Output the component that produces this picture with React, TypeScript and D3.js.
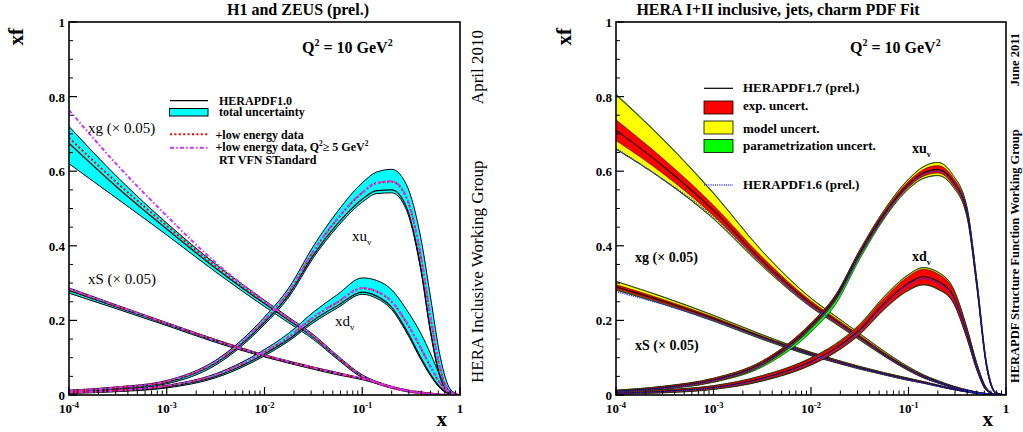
import React from 'react';
import * as d3 from 'd3';

// x grid shared by every parton density curve
const X_GRID = [0.0001, 0.000316, 0.001, 0.00316, 0.01, 0.0178, 0.0316, 0.0562, 0.1, 0.141, 0.2, 0.282, 0.398, 0.501, 0.631, 0.794, 1];

// ---- H1 and ZEUS: HERAPDF1.0 with total uncertainty, plus variants ----
const H10_XG = [0.675, 0.555, 0.445, 0.34, 0.245, 0.2, 0.155, 0.1, 0.05, 0.033, 0.02, 0.011, 0.005, 0.003, 0.001, 0, 0];
const H10_XG_UP = [0.045, 0.028, 0.016, 0.011, 0.009, 0.008, 0.007, 0.005, 0.004, 0.003, 0.002, 0.002, 0.001, 0.001, 0, 0, 0];
const H10_XG_DN = [0.055, 0.03, 0.016, 0.01, 0.008, 0.007, 0.006, 0.005, 0.004, 0.003, 0.002, 0.002, 0.001, 0.001, 0, 0, 0];
const LOWE_XG = [0.69, 0.567, 0.454, 0.346, 0.249, 0.203, 0.157, 0.101, 0.05, 0.033, 0.02, 0.011, 0.005, 0.003, 0.001, 0, 0];
const LOWQ_XG = [0.764, 0.615, 0.48, 0.355, 0.252, 0.205, 0.158, 0.102, 0.051, 0.033, 0.02, 0.011, 0.005, 0.003, 0.001, 0, 0];

const H10_XS = [0.28, 0.235, 0.19, 0.145, 0.105, 0.088, 0.072, 0.057, 0.043, 0.033, 0.021, 0.013, 0.007, 0.004, 0.001, 0, 0];
const H10_XS_ERR = [0.007, 0.005, 0.004, 0.004, 0.003, 0.003, 0.003, 0.003, 0.002, 0.002, 0.002, 0.001, 0.001, 0.001, 0, 0, 0];
const LOWE_XS = [0.283, 0.237, 0.192, 0.147, 0.106, 0.089, 0.073, 0.058, 0.044, 0.034, 0.022, 0.013, 0.007, 0.004, 0.001, 0, 0];
const LOWQ_XS = [0.285, 0.238, 0.192, 0.146, 0.106, 0.089, 0.073, 0.058, 0.044, 0.034, 0.022, 0.013, 0.007, 0.004, 0.001, 0, 0];

const H10_XUV = [0.01, 0.018, 0.034, 0.085, 0.195, 0.27, 0.375, 0.46, 0.525, 0.548, 0.55, 0.505, 0.34, 0.17, 0.045, 0.004, 0];
const H10_XUV_UP = [0.003, 0.004, 0.005, 0.008, 0.014, 0.018, 0.024, 0.033, 0.044, 0.05, 0.055, 0.06, 0.08, 0.09, 0.055, 0.012, 0];
const H10_XUV_DN = [0.002, 0.003, 0.004, 0.005, 0.006, 0.007, 0.007, 0.008, 0.008, 0.008, 0.008, 0.008, 0.007, 0.005, 0.003, 0.001, 0];
const LOWE_XUV = [0.011, 0.02, 0.036, 0.088, 0.2, 0.277, 0.385, 0.473, 0.542, 0.568, 0.572, 0.53, 0.37, 0.205, 0.067, 0.008, 0];
const LOWQ_XUV = [0.011, 0.02, 0.037, 0.089, 0.201, 0.278, 0.386, 0.474, 0.543, 0.569, 0.573, 0.532, 0.372, 0.207, 0.068, 0.008, 0];

const H10_XDV = [0.006, 0.011, 0.022, 0.05, 0.11, 0.15, 0.2, 0.24, 0.276, 0.265, 0.235, 0.175, 0.1, 0.055, 0.02, 0.003, 0];
const H10_XDV_UP = [0.002, 0.003, 0.004, 0.007, 0.012, 0.016, 0.022, 0.03, 0.038, 0.042, 0.047, 0.055, 0.065, 0.055, 0.03, 0.006, 0];
const H10_XDV_DN = [0.002, 0.002, 0.003, 0.004, 0.005, 0.005, 0.006, 0.006, 0.006, 0.006, 0.006, 0.006, 0.005, 0.004, 0.003, 0.001, 0];
const LOWE_XDV = [0.007, 0.012, 0.024, 0.053, 0.115, 0.156, 0.208, 0.249, 0.286, 0.277, 0.25, 0.195, 0.125, 0.075, 0.03, 0.005, 0];
const LOWQ_XDV = [0.007, 0.012, 0.025, 0.054, 0.116, 0.157, 0.209, 0.25, 0.287, 0.278, 0.251, 0.196, 0.126, 0.076, 0.031, 0.005, 0];

// ---- HERA I+II fit: HERAPDF1.7 with exp / model / parametrisation bands, and HERAPDF1.6 ----
const H17_XG = [0.71, 0.61, 0.495, 0.36, 0.245, 0.2, 0.155, 0.11, 0.07, 0.05, 0.035, 0.022, 0.012, 0.007, 0.003, 0.001, 0];
const H17_XG_EXP = [0.028, 0.02, 0.014, 0.01, 0.007, 0.006, 0.005, 0.004, 0.003, 0.003, 0.002, 0.002, 0.001, 0.001, 0.001, 0, 0];
const H17_XG_MOD_UP = [0.094, 0.07, 0.045, 0.025, 0.014, 0.011, 0.009, 0.007, 0.005, 0.004, 0.003, 0.002, 0.002, 0.001, 0.001, 0, 0];
const H17_XG_MOD_DN = [0.05, 0.035, 0.022, 0.014, 0.009, 0.008, 0.007, 0.005, 0.004, 0.003, 0.003, 0.002, 0.001, 0.001, 0.001, 0, 0];
const H17_XG_PAR_UP = [0.097, 0.072, 0.047, 0.026, 0.015, 0.012, 0.01, 0.008, 0.006, 0.005, 0.004, 0.003, 0.002, 0.001, 0.001, 0, 0];
const H17_XG_PAR_DN = [0.051, 0.036, 0.023, 0.015, 0.01, 0.009, 0.008, 0.006, 0.005, 0.004, 0.003, 0.002, 0.001, 0.001, 0.001, 0, 0];
const H16_XG = [0.661, 0.575, 0.478, 0.352, 0.24, 0.197, 0.153, 0.109, 0.069, 0.049, 0.034, 0.022, 0.012, 0.007, 0.003, 0.001, 0];

const H17_XS = [0.29, 0.25, 0.205, 0.155, 0.11, 0.091, 0.073, 0.057, 0.042, 0.034, 0.025, 0.016, 0.009, 0.005, 0.002, 0, 0];
const H17_XS_EXP = [0.006, 0.005, 0.004, 0.003, 0.003, 0.003, 0.002, 0.002, 0.002, 0.002, 0.001, 0.001, 0.001, 0.001, 0, 0, 0];
const H17_XS_MOD_UP = [0.014, 0.011, 0.008, 0.006, 0.004, 0.004, 0.003, 0.003, 0.003, 0.002, 0.002, 0.001, 0.001, 0.001, 0, 0, 0];
const H17_XS_MOD_DN = [0.008, 0.007, 0.006, 0.005, 0.004, 0.004, 0.003, 0.003, 0.003, 0.002, 0.002, 0.001, 0.001, 0.001, 0, 0, 0];
const H17_XS_PAR_UP = [0.015, 0.012, 0.009, 0.007, 0.005, 0.004, 0.004, 0.003, 0.003, 0.002, 0.002, 0.001, 0.001, 0.001, 0, 0, 0];
const H17_XS_PAR_DN = [0.009, 0.008, 0.007, 0.006, 0.005, 0.004, 0.004, 0.003, 0.003, 0.002, 0.002, 0.001, 0.001, 0.001, 0, 0, 0];
const H16_XS = [0.277, 0.242, 0.2, 0.153, 0.109, 0.09, 0.072, 0.056, 0.041, 0.033, 0.024, 0.016, 0.009, 0.005, 0.002, 0, 0];

const H17_XUV = [0.01, 0.02, 0.04, 0.085, 0.185, 0.26, 0.38, 0.485, 0.565, 0.595, 0.605, 0.575, 0.49, 0.3, 0.08, 0.005, 0];
const H17_XUV_EXP = [0.002, 0.003, 0.004, 0.005, 0.006, 0.006, 0.006, 0.007, 0.008, 0.009, 0.01, 0.01, 0.009, 0.007, 0.004, 0.001, 0];
const H17_XUV_MOD_UP = [0.003, 0.004, 0.005, 0.006, 0.007, 0.007, 0.008, 0.01, 0.013, 0.016, 0.018, 0.016, 0.013, 0.01, 0.005, 0.001, 0];
const H17_XUV_MOD_DN = [0.003, 0.004, 0.005, 0.006, 0.007, 0.007, 0.008, 0.01, 0.012, 0.014, 0.016, 0.014, 0.012, 0.009, 0.004, 0.001, 0];
const H17_XUV_PAR_UP = [0.003, 0.004, 0.005, 0.006, 0.008, 0.008, 0.009, 0.011, 0.014, 0.017, 0.019, 0.017, 0.014, 0.011, 0.006, 0.001, 0];
const H17_XUV_PAR_DN = [0.003, 0.004, 0.006, 0.01, 0.016, 0.018, 0.016, 0.013, 0.013, 0.015, 0.017, 0.015, 0.013, 0.01, 0.005, 0.001, 0];
const H16_XUV = [0.009, 0.019, 0.039, 0.083, 0.182, 0.256, 0.376, 0.481, 0.561, 0.591, 0.6, 0.572, 0.492, 0.305, 0.085, 0.006, 0];

const H17_XDV = [0.005, 0.01, 0.02, 0.045, 0.09, 0.125, 0.175, 0.245, 0.3, 0.317, 0.305, 0.27, 0.165, 0.076, 0.015, 0.001, 0];
const H17_XDV_EXP = [0.002, 0.003, 0.004, 0.006, 0.008, 0.009, 0.011, 0.014, 0.018, 0.02, 0.02, 0.017, 0.012, 0.007, 0.003, 0, 0];
const H17_XDV_MOD_UP = [0.003, 0.004, 0.005, 0.007, 0.009, 0.011, 0.014, 0.018, 0.022, 0.024, 0.024, 0.02, 0.014, 0.009, 0.004, 0, 0];
const H17_XDV_MOD_DN = [0.003, 0.004, 0.005, 0.007, 0.009, 0.01, 0.012, 0.015, 0.019, 0.021, 0.021, 0.018, 0.013, 0.008, 0.003, 0, 0];
const H17_XDV_PAR_UP = [0.003, 0.004, 0.005, 0.007, 0.01, 0.012, 0.015, 0.019, 0.023, 0.025, 0.025, 0.021, 0.015, 0.01, 0.004, 0, 0];
const H17_XDV_PAR_DN = [0.003, 0.004, 0.005, 0.008, 0.01, 0.011, 0.013, 0.016, 0.02, 0.022, 0.022, 0.019, 0.014, 0.009, 0.003, 0, 0];
const H16_XDV = [0.004, 0.009, 0.019, 0.043, 0.088, 0.122, 0.171, 0.241, 0.295, 0.312, 0.3, 0.266, 0.163, 0.075, 0.015, 0.001, 0];

// axis labelling
const Y_TICKS = [0, 0.2, 0.4, 0.6, 0.8, 1];
const Y_TICK_LABELS = ['0', '0.2', '0.4', '0.6', '0.8', '1'];
const X_DECADES = [0.0001, 0.001, 0.01, 0.1, 1];
const X_DECADE_EXP = ['-4', '-3', '-2', '-1', ''];

const SERIF = '"Liberation Serif", "Times New Roman", Times, serif';
const TOP = 22;
const BOTTOM = 395;
const y = d3.scaleLinear().domain([0, 1]).range([BOTTOM, TOP]);
const xLeft = d3.scaleLog().domain([1e-4, 1]).range([69, 460]);
const xRight = d3.scaleLog().domain([1e-4, 1]).range([616, 1006]);

type XScale = d3.ScaleLogarithmic<number, number>;

const shift = (vals: number[], off: number[], sign: number) =>
  vals.map((v, i) => Math.max(0, v + sign * off[i]));

function linePath(xs: XScale, vals: number[]): string {
  return (
    d3
      .line<number>()
      .x((_, i) => xs(X_GRID[i]))
      .y((v) => y(v))
      .curve(d3.curveMonotoneX)(vals) || ''
  );
}

function areaPath(xs: XScale, lo: number[], hi: number[]): string {
  return (
    d3
      .area<number>()
      .x((_, i) => xs(X_GRID[i]))
      .y0((_, i) => y(lo[i]))
      .y1((_, i) => y(hi[i]))
      .curve(d3.curveMonotoneX)(lo) || ''
  );
}

function Band({ xs, lo, hi, fill, edge = 0.8 }: { xs: XScale; lo: number[]; hi: number[]; fill: string; edge?: number }) {
  return (
    <g>
      <path d={areaPath(xs, lo, hi)} fill={fill} stroke="none" />
      <path d={linePath(xs, hi)} fill="none" stroke="#000" strokeWidth={edge} />
      <path d={linePath(xs, lo)} fill="none" stroke="#000" strokeWidth={edge} />
    </g>
  );
}

function Frame({ xs, x0, x1, yTitleX }: { xs: XScale; x0: number; x1: number; yTitleX: number }) {
  const minorY = d3.range(0, 21).map((k) => k * 0.05).filter((v) => Math.abs(v * 5 - Math.round(v * 5)) > 1e-6);
  const minorX: number[] = [];
  X_DECADES.slice(0, -1).forEach((d) => {
    for (let k = 2; k <= 9; k++) minorX.push(d * k);
  });
  return (
    <g fontFamily={SERIF} fontWeight="bold">
      <rect x={x0} y={TOP} width={x1 - x0} height={BOTTOM - TOP} fill="none" stroke="#000" strokeWidth={1.6} />
      {Y_TICKS.map((v, i) => (
        <g key={'yt' + i}>
          <line x1={x0} x2={x0 + 8} y1={y(v)} y2={y(v)} stroke="#000" strokeWidth={1.2} />
          <text x={x0 - 4} y={y(v) + 5} fontSize={13} textAnchor="end">
            {Y_TICK_LABELS[i]}
          </text>
        </g>
      ))}
      {minorY.map((v, i) => (
        <line key={'ym' + i} x1={x0} x2={x0 + 4} y1={y(v)} y2={y(v)} stroke="#000" strokeWidth={1} />
      ))}
      {X_DECADES.map((d, i) => (
        <g key={'xt' + i}>
          <line x1={xs(d)} x2={xs(d)} y1={BOTTOM} y2={BOTTOM - 8} stroke="#000" strokeWidth={1.2} />
          <text x={xs(d)} y={413} fontSize={13} textAnchor="middle">
            {X_DECADE_EXP[i] === '' ? (
              '1'
            ) : (
              <>
                <tspan>10</tspan>
                <tspan dy={-5} fontSize={8.5}>
                  {X_DECADE_EXP[i]}
                </tspan>
              </>
            )}
          </text>
        </g>
      ))}
      {minorX.map((v, i) => (
        <line key={'xm' + i} x1={xs(v)} x2={xs(v)} y1={BOTTOM} y2={BOTTOM - 4.5} stroke="#000" strokeWidth={1} />
      ))}
      <text x={x1 - 13} y={426} fontSize={21} textAnchor="end">
        x
      </text>
      <text transform={`translate(${yTitleX},28) rotate(-90)`} fontSize={21} textAnchor="end">
        xf
      </text>
    </g>
  );
}

function Q2Label({ x, yPos }: { x: number; yPos: number }) {
  return (
    <text x={x} y={yPos} fontFamily={SERIF} fontWeight="bold" fontSize={16}>
      <tspan>Q</tspan>
      <tspan dy={-7} fontSize={10}>2</tspan>
      <tspan dy={7}> = 10 GeV</tspan>
      <tspan dy={-7} fontSize={10}>2</tspan>
    </text>
  );
}

function PdfName({ x, yPos, base, sub, bold, size }: { x: number; yPos: number; base: string; sub: string; bold: boolean; size: number }) {
  return (
    <text x={x} y={yPos} fontFamily={SERIF} fontWeight={bold ? 'bold' : 'normal'} fontSize={size}>
      <tspan>{base}</tspan>
      <tspan dy={4} fontSize={size * 0.6}>{sub}</tspan>
    </text>
  );
}

const RED_DOT = { stroke: '#ff0000', strokeWidth: 2, strokeDasharray: '2 2.4', fill: 'none' };
const MAG_DASHDOT = { stroke: '#cc33ff', strokeWidth: 2, strokeDasharray: '4 2.2 1.5 2.2', fill: 'none' };
const BLUE_DOT = { stroke: '#2a2aff', strokeWidth: 1.6, strokeDasharray: '1 1.2', fill: 'none' };

function LeftPanel() {
  const xs = xLeft;
  const bands = [
    { c: H10_XG, up: H10_XG_UP, dn: H10_XG_DN },
    { c: H10_XS, up: H10_XS_ERR, dn: H10_XS_ERR },
    { c: H10_XUV, up: H10_XUV_UP, dn: H10_XUV_DN },
    { c: H10_XDV, up: H10_XDV_UP, dn: H10_XDV_DN },
  ];
  const reds = [LOWE_XG, LOWE_XS, LOWE_XUV, LOWE_XDV];
  const mags = [LOWQ_XG, LOWQ_XS, LOWQ_XUV, LOWQ_XDV];
  return (
    <g>
      <defs>
        <clipPath id="clipL">
          <rect x={69} y={TOP} width={391} height={BOTTOM - TOP} />
        </clipPath>
      </defs>
      <g clipPath="url(#clipL)">
        {bands.map((b, i) => (
          <Band key={'b' + i} xs={xs} lo={shift(b.c, b.dn, -1)} hi={shift(b.c, b.up, 1)} fill="#00ffff" edge={1} />
        ))}
        {bands.map((b, i) => (
          <path key={'c' + i} d={linePath(xs, b.c)} fill="none" stroke="#000" strokeWidth={1.2} />
        ))}
        {reds.map((r, i) => (
          <path key={'r' + i} d={linePath(xs, r)} {...RED_DOT} />
        ))}
        {mags.map((m, i) => (
          <path key={'m' + i} d={linePath(xs, m)} {...MAG_DASHDOT} />
        ))}
      </g>
      <Frame xs={xs} x0={69} x1={460} yTitleX={23} />
      <text x={298} y={15} textAnchor="middle" fontFamily={SERIF} fontWeight="bold" fontSize={16}>
        H1 and ZEUS (prel.)
      </text>
      <Q2Label x={302} yPos={53} />
      {/* legend */}
      <g fontFamily={SERIF} fontWeight="bold" fontSize={12}>
        <line x1={170} x2={208} y1={100.7} y2={100.7} stroke="#000" strokeWidth={1.2} />
        <text x={219} y={104.5}>HERAPDF1.0</text>
        <rect x={169.5} y={108.5} width={38.5} height={7.5} fill="#00ffff" stroke="#000" strokeWidth={1} />
        <text x={219} y={116}>total uncertainty</text>
        <line x1={170} x2={208} y1={134.3} y2={134.3} {...RED_DOT} />
        <text x={215.5} y={138.5}>+low energy data</text>
        <line x1={170} x2={208} y1={147.7} y2={147.7} {...MAG_DASHDOT} />
        <text x={215.5} y={151}>
          <tspan>+low energy data, Q</tspan>
          <tspan dy={-5} fontSize={7.5}>2</tspan>
          <tspan dy={5}>≥ 5 GeV</tspan>
          <tspan dy={-5} fontSize={7.5}>2</tspan>
        </text>
        <text x={219} y={163.5}>RT VFN STandard</text>
      </g>
      <g fontFamily={SERIF} fontSize={15}>
        <text x={88} y={133}>xg (× 0.05)</text>
        <text x={88} y={284}>xS (× 0.05)</text>
      </g>
      <PdfName x={352} yPos={241} base="xu" sub="v" bold={false} size={15} />
      <PdfName x={335} yPos={326} base="xd" sub="v" bold={false} size={15} />
      <g fontFamily={SERIF} fontSize={17}>
        <text transform="translate(483,30) rotate(-90)" textAnchor="end">April 2010</text>
        <text transform="translate(483,383) rotate(-90)" textAnchor="start">HERA Inclusive Working Group</text>
      </g>
    </g>
  );
}

function RightPanel() {
  const xs = xRight;
  const pdfs = [
    { c: H17_XG, exp: H17_XG_EXP, mu: H17_XG_MOD_UP, md: H17_XG_MOD_DN, pu: H17_XG_PAR_UP, pd: H17_XG_PAR_DN, old: H16_XG },
    { c: H17_XS, exp: H17_XS_EXP, mu: H17_XS_MOD_UP, md: H17_XS_MOD_DN, pu: H17_XS_PAR_UP, pd: H17_XS_PAR_DN, old: H16_XS },
    { c: H17_XUV, exp: H17_XUV_EXP, mu: H17_XUV_MOD_UP, md: H17_XUV_MOD_DN, pu: H17_XUV_PAR_UP, pd: H17_XUV_PAR_DN, old: H16_XUV },
    { c: H17_XDV, exp: H17_XDV_EXP, mu: H17_XDV_MOD_UP, md: H17_XDV_MOD_DN, pu: H17_XDV_PAR_UP, pd: H17_XDV_PAR_DN, old: H16_XDV },
  ];
  return (
    <g>
      <defs>
        <clipPath id="clipR">
          <rect x={616} y={TOP} width={390} height={BOTTOM - TOP} />
        </clipPath>
      </defs>
      <g clipPath="url(#clipR)">
        {pdfs.map((p, i) => (
          <g key={'p' + i}>
            <Band xs={xs} lo={shift(p.c, p.pd, -1)} hi={shift(p.c, p.pu, 1)} fill="#00ff00" edge={0.6} />
            <Band xs={xs} lo={shift(p.c, p.md, -1)} hi={shift(p.c, p.mu, 1)} fill="#ffff00" edge={0.6} />
            <Band xs={xs} lo={shift(p.c, p.exp, -1)} hi={shift(p.c, p.exp, 1)} fill="#ff0000" edge={0.5} />
            <path d={linePath(xs, p.c)} fill="none" stroke="#000" strokeWidth={1.1} />
          </g>
        ))}
        {pdfs.map((p, i) => (
          <path key={'o' + i} d={linePath(xs, p.old)} {...BLUE_DOT} />
        ))}
      </g>
      <Frame xs={xs} x0={616} x1={1006} yTitleX={571} />
      <text x={778} y={15} textAnchor="middle" fontFamily={SERIF} fontWeight="bold" fontSize={16}>
        HERA I+II inclusive, jets, charm PDF Fit
      </text>
      <Q2Label x={850} yPos={53} />
      {/* legend */}
      <g fontFamily={SERIF} fontWeight="bold" fontSize={13}>
        <line x1={704} x2={733} y1={88.3} y2={88.3} stroke="#000" strokeWidth={1.2} />
        <text x={743} y={92}>HERAPDF1.7 (prel.)</text>
        <rect x={704} y={101} width={29} height={13} fill="#ff0000" stroke="#000" strokeWidth={0.8} />
        <text x={743} y={110}>exp. uncert.</text>
        <rect x={704} y={121} width={29} height={13} fill="#ffff00" stroke="#000" strokeWidth={0.8} />
        <text x={743} y={132.5}>model uncert.</text>
        <rect x={704} y={139.5} width={29} height={13} fill="#00ff00" stroke="#000" strokeWidth={0.8} />
        <text x={743} y={150}>parametrization uncert.</text>
        <line x1={704} x2={733} y1={185} y2={185} {...BLUE_DOT} />
        <text x={743} y={189}>HERAPDF1.6 (prel.)</text>
      </g>
      <g fontFamily={SERIF} fontWeight="bold" fontSize={14}>
        <text x={635} y={262}>xg (× 0.05)</text>
        <text x={635} y={350}>xS (× 0.05)</text>
      </g>
      <PdfName x={912} yPos={153} base="xu" sub="v" bold={true} size={14} />
      <PdfName x={912} yPos={261} base="xd" sub="v" bold={true} size={14} />
      <g fontFamily={SERIF} fontWeight="bold" fontSize={12.5}>
        <text transform="translate(1019,33) rotate(-90)" textAnchor="end">June 2011</text>
        <text transform="translate(1019,383) rotate(-90)" textAnchor="start">HERAPDF Structure Function Working Group</text>
      </g>
    </g>
  );
}

export default function App() {
  return (
    <svg
      width={1023}
      height={432}
      viewBox="0 0 1023 432"
      style={{ position: 'absolute', left: 0, top: 0, background: '#fff' }}
    >
      <rect x={0} y={0} width={1023} height={432} fill="#fff" />
      <LeftPanel />
      <RightPanel />
    </svg>
  );
}
